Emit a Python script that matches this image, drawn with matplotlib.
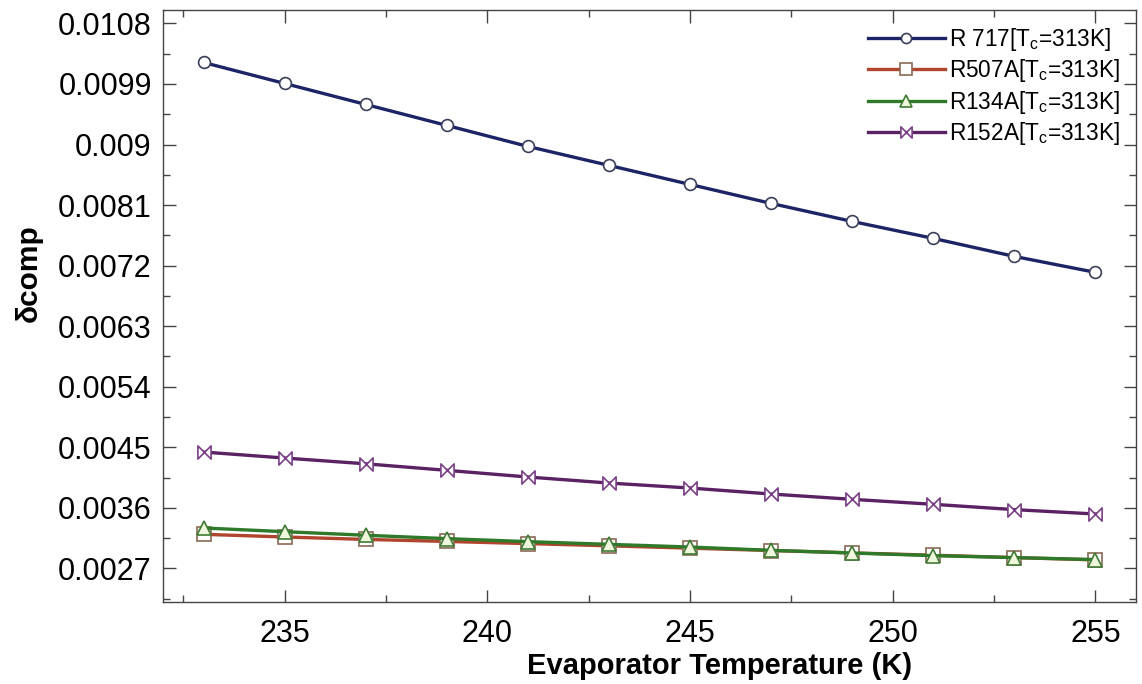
import matplotlib
matplotlib.use("Agg")
import matplotlib.pyplot as plt
from matplotlib.path import Path
from matplotlib.ticker import MultipleLocator, FuncFormatter

plt.rcParams['font.family'] = ['Liberation Sans', 'DejaVu Sans']
plt.rcParams['mathtext.fontset'] = 'custom'
plt.rcParams['mathtext.rm'] = 'Liberation Sans'
plt.rcParams['mathtext.it'] = 'Liberation Sans'

# Verdampfungstemperatur, K
T_evap = [233, 235, 237, 239, 241, 243, 245, 247, 249, 251, 253, 255]

# delta_comp je Kältemittel bei T_c = 313 K
d_R717 = [0.010220, 0.009908, 0.009596, 0.009284, 0.008972, 0.008690,
          0.008407, 0.008125, 0.007857, 0.007605, 0.007337, 0.007100]
d_R507A = [0.003206, 0.003166, 0.003130, 0.003100, 0.003068, 0.003035,
           0.003000, 0.002965, 0.002930, 0.002895, 0.002860, 0.002826]
d_R134A = [0.003300, 0.003245, 0.003192, 0.003142, 0.003097, 0.003057,
           0.003017, 0.002968, 0.002928, 0.002889, 0.002860, 0.002830]
d_R152A = [0.004429, 0.004340, 0.004254, 0.004157, 0.004058, 0.003968,
           0.003894, 0.003805, 0.003726, 0.003652, 0.003573, 0.003508]

labels = ['R 717[T$_c$=313K]', 'R507A[T$_c$=313K]',
          'R134A[T$_c$=313K]', 'R152A[T$_c$=313K]']

# Fliege-Marker (⋈)
bowtie = Path([(-1, 1), (1, -1), (1, 1), (-1, -1), (-1, 1)],
              [Path.MOVETO, Path.LINETO, Path.LINETO, Path.LINETO, Path.CLOSEPOLY])

fig = plt.figure(figsize=(11.42, 6.84), dpi=100)
ax = fig.add_axes([0.1427, 0.1199, 0.852, 0.8655])

ax.plot(T_evap, d_R717, color='#1c2466', lw=2.4, marker='o', ms=8.5,
        mfc='white', mec='#3a3f5a', mew=1.2, label=labels[0])
ax.plot(T_evap, d_R507A, color='#b0442c', lw=2.4, marker='s', ms=9.5,
        mfc='white', mec='#8a6a55', mew=1.2, label=labels[1])
ax.plot(T_evap, d_R134A, color='#2f7a2a', lw=2.4, marker='^', ms=10,
        mfc='#eef6dc', mec='#3f7a35', mew=1.2, label=labels[2])
ax.plot(T_evap, d_R152A, color='#5a2163', lw=2.4, marker=bowtie, ms=9.5,
        mfc='white', mec='#7a3f86', mew=1.2, label=labels[3])

ax.set_xlim(232, 256)
ax.set_ylim(0.0022, 0.011)
ax.xaxis.set_major_locator(MultipleLocator(5))
ax.xaxis.set_minor_locator(MultipleLocator(2.5))
ax.yaxis.set_major_locator(MultipleLocator(0.0009))
ax.yaxis.set_minor_locator(MultipleLocator(0.00045))
ax.yaxis.set_major_formatter(FuncFormatter(lambda v, p: f"{v:.4f}".rstrip('0')))

ax.tick_params(which='both', direction='in', top=True, right=True,
               color='#444444', width=1)
ax.tick_params(which='major', length=9, labelsize=22)
ax.tick_params(axis='x', which='major', pad=12)
ax.tick_params(axis='y', which='major', pad=8)
ax.tick_params(which='minor', length=5)
for s in ax.spines.values():
    s.set_color('#444444')
    s.set_linewidth(1)

ax.set_xlabel('Evaporator Temperature (K)', fontsize=21, fontweight='bold')
ax.xaxis.set_label_coords(0.572, -0.085)
ax.set_ylabel('δcomp', fontsize=21.5, fontweight='bold')
ax.yaxis.set_label_coords(-0.124, 0.556)

ax.legend(loc='upper right', frameon=False, fontsize=16.3, handlelength=3.4,
          handletextpad=0.2, labelspacing=0.2, borderaxespad=0.3,
          markerscale=0.85)

fig.savefig('out.png', dpi=100)
